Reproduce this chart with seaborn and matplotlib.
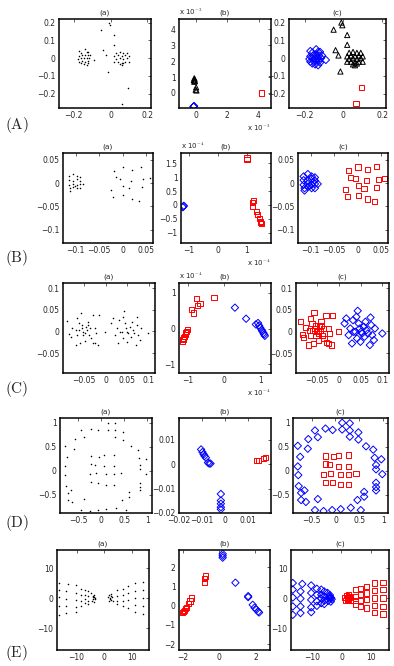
import matplotlib
matplotlib.use('Agg')
import matplotlib.pyplot as plt
import numpy as np
import pandas as pd
import seaborn as sns
from matplotlib.ticker import FuncFormatter

sns.set_style('white')
plt.rcParams['font.family'] = ['DejaVu Sans']
plt.rcParams['mathtext.fontset'] = 'cm'

# groups: 0 = blue diamond, 1 = red square, 2 = black triangle

## Row A
A_x = [-0.17, -0.16, -0.14, -0.13, -0.12, -0.17, -0.155, -0.14, -0.125, -0.11, -0.175, -0.16,
       -0.145, -0.13, -0.115, -0.17, -0.155, -0.14, -0.125, -0.16, -0.145, -0.13, -0.12, -0.09,
       0.03, 0.05, 0.07, 0.09, 0.02, 0.04, 0.06, 0.08, 0.10, 0.03, 0.05, 0.07, 0.09, 0.02, 0.04,
       0.06, 0.08, 0.10, 0.05, 0.07, 0.06,
       -0.01, -0.005, -0.05, 0.02, 0.02, -0.04, -0.025, -0.015, 0.095, 0.065]
A_y = [0.04, 0.03, 0.05, 0.035, 0.035, 0.01, 0.015, 0.02, 0.015, 0.015, -0.005, 0.0,
       0.0, 0.0, 0.0, -0.02, -0.015, -0.02, -0.015, -0.03, -0.035, -0.04, -0.025, -0.01,
       0.03, 0.035, 0.03, 0.03, 0.01, 0.015, 0.01, 0.015, 0.01, -0.005, 0.0, -0.005, 0.0, -0.02, -0.02,
       -0.025, -0.02, -0.02, -0.035, -0.03, -0.04,
       0.2, 0.185, 0.16, 0.13, 0.075, 0.045, 0.015, -0.075, -0.165, -0.255]
A_g = [0] * 24 + [2] * 21 + [2] * 8 + [1, 1]
# panel (b), units of 1e-3
A_bx = [-0.17, -0.15, -0.13, -0.12, -0.1, -0.15, -0.08, -0.12, 0.0, -0.03, 0.02, 4.2]
A_by = [-0.87, -0.85, -0.83, 0.92, 0.85, 0.8, 0.75, 0.7, 0.35, 0.2, 0.15, 0.0]
A_bg = [0, 0, 0, 2, 2, 2, 2, 2, 2, 2, 2, 1]

## Row B
B_x = [-0.115, -0.106, -0.098, -0.091, -0.115, -0.106, -0.098, -0.091, -0.115, -0.106, -0.098,
       -0.091, -0.085, -0.113, -0.106, -0.098, -0.091, -0.113, -0.102,
       -0.019, 0.001, 0.021, 0.040, -0.015, -0.005, 0.019, 0.044, 0.058, -0.025, 0.002, 0.014,
       0.041, -0.021, 0.002, 0.021, 0.036]
B_y = [0.014, 0.019, 0.014, 0.012, 0.006, 0.005, 0.009, 0.005, -0.004, -0.002, -0.004,
       -0.002, -0.002, -0.011, -0.008, -0.011, -0.011, -0.016, -0.006,
       0.026, 0.034, 0.028, 0.035, 0.012, 0.009, 0.005, 0.008, 0.010, -0.014, -0.006, -0.011,
       -0.009, -0.029, -0.026, -0.034, -0.039]
B_g = [0] * 19 + [1] * 17
# panel (b), units of 1e-4
B_bx = [-1.2, -1.18, -1.22, 1.0, 1.0, 1.22, 1.2, 1.2, 1.33, 1.36, 1.44, 1.48, 1.5, 1.47]
B_by = [-0.05, -0.03, -0.08, 1.68, 1.62, 0.15, 0.1, -0.05, -0.22, -0.33, -0.48, -0.58, -0.65, -0.62]
B_bg = [0, 0, 0] + [1] * 11

## Row C
C_x = [-0.0887, -0.0771, -0.0841, -0.081, -0.0694, -0.0655, -0.0624, -0.0577, -0.0539, -0.0554,
       -0.0608, -0.0515, -0.0477, -0.0531, -0.0438, -0.0453, -0.0399, -0.036, -0.0415, -0.0298,
       -0.0376, -0.0345, -0.0283, -0.0244, -0.0221, -0.0143, -0.0167, -0.0244, -0.0477, -0.0593,
       -0.0686, -0.0655, -0.0012,
       0.0167, 0.0128, 0.026, 0.0221, 0.0298, 0.0322, 0.043, 0.0399, 0.0453, 0.0477, 0.0508,
       0.0531, 0.057, 0.0608, 0.0632, 0.0585, 0.0663, 0.0725, 0.074, 0.0763, 0.0802, 0.0709,
       0.0492, 0.0415, 0.0996, 0.0825, 0.0376, 0.0337]
C_y = [0.0238, 0.0085, -0.0062, -0.0138, -0.0315, 0.030, 0.0185, 0.0431, 0.0146, 0.0069,
       0.0031, -0.0008, -0.0046, -0.0085, 0.0031, 0.0108, 0.0146, 0.0069, 0.0223, 0.0377,
       -0.0085, -0.0162, -0.0261, 0.0069, -0.0046, 0.0377, -0.0315, -0.0277, -0.0215, -0.0277,
       0.0031, -0.0085, -0.0008,
       0.030, 0.0185, 0.0069, -0.0085, -0.0277, 0.0261, 0.0477, 0.0338, 0.0185, 0.0069, -0.0008,
       -0.0046, 0.0108, 0.0223, 0.0031, -0.0123, -0.0046, 0.0323, 0.0146, -0.0085, -0.02, -0.0315,
       -0.0238, -0.0162, -0.0046, 0.0069, -0.0008, -0.0008]
C_g = [1] * 33 + [0] * 28
# panel (b), units of 1e-4
C_bx = [-1.02, -1.05, -1.06, -1.08, -1.1, -1.12, -1.14, -1.15, -0.91, -0.85, -0.76, -0.74, -0.67,
        -0.28, 0.30, 0.61, 0.88, 0.94, 0.97, 1.0, 1.04, 1.06, 1.09, 1.11, 1.13]
C_by = [-0.02, -0.07, -0.12, -0.17, -0.21, -0.26, -0.31, -0.35, 0.53, 0.44, 0.84, 0.65, 0.7,
        0.87, 0.59, 0.28, 0.12, 0.16, 0.09, 0.03, -0.03, -0.07, -0.12, -0.16, -0.2]
C_bg = [1] * 14 + [0] * 11

## Row D
D_x = [-0.79, -0.74, -0.79, -0.78, -0.77, -0.72, -0.65, -0.72, -0.62, -0.58, -0.57, -0.43, -0.37,
       -0.21, -0.06, 0.14, 0.14, 0.30, 0.30, 0.30, 0.48, 0.48, 0.64, 0.79, 0.82, 0.96, 0.85, 0.85,
       0.98, 0.85, 0.85, 0.85, 0.60, 0.60, 0.46, 0.32, 0.53, 0.11, -0.07, -0.25, -0.43, -0.37,
       -0.21, -0.04, 0.07, 0.27, -0.21, -0.13, 0.07, 0.27, -0.25, -0.11, 0.11, 0.27, 0.43, -0.21,
       -0.07, 0.11, 0.27]
D_y = [0.52, 0.29, 0.09, -0.09, -0.32, -0.46, -0.41, -0.61, -0.65, 0.46, 0.66, 0.84, 0.70,
       0.88, 0.85, 1.0, 0.86, 0.99, 0.84, 0.71, 0.80, 0.65, 0.51, 0.44, 0.27, 0.24, 0.12, 0.03,
       -0.07, -0.25, -0.34, -0.41, -0.44, -0.54, -0.61, -0.77, -0.82, -0.80, -0.82, -0.84, -0.82,
       -0.59,
       0.31, 0.29, 0.32, 0.33, 0.14, 0.13, 0.09, 0.09, -0.07, -0.05, -0.07, -0.07, -0.05, -0.24,
       -0.25, -0.29, -0.29]
D_g = [0] * 42 + [1] * 17
D_bx = [-0.0104, -0.0098, -0.0093, -0.0089, -0.0083, -0.0074, -0.0069, -0.0063,
        -0.0018, -0.0018, -0.0018, -0.0018, -0.0018, 0.0137, 0.0146, 0.0167, 0.0175]
D_by = [0.0061, 0.005, 0.0041, 0.0034, 0.0027, 0.0007, 0.0003, 0.0003,
        -0.0122, -0.0149, -0.0162, -0.0176, -0.0185, 0.0014, 0.0016, 0.0024, 0.0027]
D_bg = [0] * 13 + [1] * 4

## Row E
E_x = [-16.4, -16.4, -16.4, -16.4, -16.4, -13.2, -13.8, -13.8, -13.8, -13.8, -10.2, -10.2, -10.2,
       -10.2, -10.2, -8.3, -8.3, -8.3, -8.3, -6.8, -6.8, -6.8, -6.8, -5.8, -5.8, -5.8, -5.8,
       -4.7, -4.1, -4.1, -3.7, -3.5, -4.4, -3.9, -3.3, -3.6, -4.2,
       4.6, 4.6, 4.6, 4.6, 6.5, 6.5, 6.5, 6.5, 8.5, 8.5, 8.5, 8.5, 11.0, 11.0, 11.0, 11.0, 11.0,
       14.0, 14.0, 14.0, 14.0, 14.0, 1.2, 1.7, 2.1, 2.5, 3.0, 1.5, 2.3, 1.9, 2.8, 2.2]
E_y = [5.0, 2.8, 0.2, -2.8, -5.6, 4.7, 2.2, -0.2, -2.8, -5.0, 4.2, 1.7, -0.6, -3.1, -4.7,
       3.1, 1.1, -1.1, -2.6, 2.8, 1.1, -0.2, -1.7, 2.2, 0.6, -0.9, -2.0,
       1.7, 0.6, -0.2, 0.2, 0.0, -0.9, 1.0, -0.4, -1.2, 0.3,
       2.8, 0.6, -0.9, -2.0, 3.1, 1.1, -0.9, -2.8, 3.9, 1.7, -0.6, -3.3, 5.0, 2.4, 0.0, -2.4, -4.7,
       5.3, 2.8, 0.0, -2.8, -5.3, 0.2, 0.9, -0.2, 0.6, -0.9, -0.9, 1.2, 0.0, 0.3, -0.5]
E_g = [0] * 37 + [1] * 32
E_bx = [-2.0, -1.95, -1.9, -1.85, -1.8, -1.7, -1.6, -1.5, -0.8, -0.8, -0.75,
        0.2, 0.2, 0.2, 0.9, 1.6, 1.6, 1.85, 1.95, 2.05, 2.15, 2.2]
E_by = [-0.35, -0.3, -0.25, -0.15, -0.1, 0.1, 0.25, 0.4, 1.2, 1.4, 1.55,
        2.5, 2.6, 2.7, 1.2, 0.5, 0.45, 0.05, -0.1, -0.2, -0.3, -0.35]
E_bg = [1] * 11 + [0] * 11

rows = [
    dict(name='(A)', x=A_x, y=A_y, g=A_g, bx=A_bx, by=A_by, bg=A_bg,
         lim=((-0.28, 0.22), (-0.28, 0.22)), ticks=([-0.2, 0, 0.2], [-0.2, -0.1, 0, 0.1, 0.2]),
         blim=((-1.1, 4.8), (-0.95, 4.65)), bticks=([0, 2, 4], [0, 1, 2, 3, 4]), bexp=-3,
         pos=[(59, 19, 151, 108), (179, 19, 271, 108), (289, 19, 386, 108)], ly=125),
    dict(name='(B)', x=B_x, y=B_y, g=B_g, bx=B_bx, by=B_by, bg=B_bg,
         lim=((-0.127, 0.065), (-0.128, 0.064)), ticks=([-0.1, -0.05, 0, 0.05], [-0.1, -0.05, 0, 0.05]),
         blim=((-1.28, 1.83), (-1.36, 1.86)), bticks=([-1, 0, 1], [-1, -0.5, 0, 0.5, 1, 1.5]), bexp=-4,
         pos=[(63, 153, 153, 243), (181, 153, 271, 243), (298, 153, 388, 243)], ly=258),
    dict(name='(C)', x=C_x, y=C_y, g=C_g, bx=C_bx, by=C_by, bg=C_bg,
         lim=((-0.099, 0.115), (-0.096, 0.112)), ticks=([-0.05, 0, 0.05, 0.1], [-0.05, 0, 0.05, 0.1]),
         blim=((-1.25, 1.3), (-1.24, 1.28)), bticks=([-1, 0, 1], [-1, 0, 1]), bexp=-4,
         pos=[(63, 283, 155, 373), (179, 283, 271, 373), (296, 283, 389, 373)], ly=389),
    dict(name='(D)', x=D_x, y=D_y, g=D_g, bx=D_bx, by=D_by, bg=D_bg,
         lim=((-0.89, 1.1), (-0.88, 1.1)), ticks=([-0.5, 0, 0.5, 1], [-0.5, 0, 0.5, 1]),
         blim=((-0.02, 0.02), (-0.02, 0.019)), bticks=([-0.02, -0.01, 0, 0.01], [-0.02, -0.01, 0, 0.01]),
         bexp=None,
         pos=[(60, 418, 152, 513), (179, 418, 271, 513), (293, 418, 388, 513)], ly=523),
    dict(name='(E)', x=E_x, y=E_y, g=E_g, bx=E_bx, by=E_by, bg=E_bg,
         lim=((-17, 16), (-17.3, 16)), ticks=([-10, 0, 10], [-10, 0, 10]),
         blim=((-2.2, 2.8), (-2.3, 2.9)), bticks=([-2, 0, 2], [-2, -1, 0, 1, 2]), bexp=None,
         pos=[(57, 550, 149, 650), (179, 550, 270, 650), (291, 550, 389, 650)], ly=653),
]

styles = {0: ('D', 'blue'), 1: ('s', 'red'), 2: ('^', 'black')}
W, H = 394, 666
fmt = FuncFormatter(lambda v, p: ('%g' % v).replace('-', '\u2212'))


def make_ax(fig, box):
    l, t, r, b = box
    ax = fig.add_axes([l / W, 1 - b / H, (r - l) / W, (b - t) / H])
    for s in ax.spines.values():
        s.set_linewidth(1.1)
        s.set_color('black')
    ax.tick_params(direction='in', length=2, width=0.5, labelsize=5.5, pad=2.5,
                   top=True, right=True)
    ax.xaxis.set_major_formatter(fmt)
    ax.yaxis.set_major_formatter(fmt)
    return ax


def colored(ax, xs, ys, gs):
    df = pd.DataFrame({'x': xs, 'y': ys, 'g': gs})
    for g, (m, c) in styles.items():
        sub = df[df.g == g]
        if len(sub) == 0:
            continue
        sns.scatterplot(data=sub, x='x', y='y', ax=ax, marker=m, s=14,
                        color=c, linewidth=0.7, legend=False)
    for coll in ax.collections:
        ec = coll.get_facecolor()
        coll.set_edgecolor(ec)
        coll.set_facecolor('none')


fig = plt.figure(figsize=(W / 100, H / 100), dpi=100)

for row in rows:
    ax_a = make_ax(fig, row['pos'][0])
    sns.scatterplot(x=row['x'], y=row['y'], ax=ax_a, color='black', marker='.', s=5,
                    linewidth=0, legend=False)
    ax_b = make_ax(fig, row['pos'][1])
    colored(ax_b, row['bx'], row['by'], row['bg'])
    ax_c = make_ax(fig, row['pos'][2])
    colored(ax_c, row['x'], row['y'], row['g'])

    for ax, lim, tk in [(ax_a, row['lim'], row['ticks']), (ax_c, row['lim'], row['ticks']),
                        (ax_b, row['blim'], row['bticks'])]:
        ax.set_xlim(*lim[0])
        ax.set_ylim(*lim[1])
        ax.set_xticks(tk[0])
        ax.set_yticks(tk[1])
        ax.set_xlabel('')
        ax.set_ylabel('')

    for ax, t in zip([ax_a, ax_b, ax_c], ['(a)', '(b)', '(c)']):
        ax.set_title(t, fontsize=5.3, pad=3)

    if row['bexp'] is not None:
        e = row['bexp']
        ax_b.text(0.0, 1.02, r'x 10$^{%d}$' % e, transform=ax_b.transAxes, fontsize=5,
                  ha='left', va='bottom')
        ax_b.text(1.0, -0.17, r'x 10$^{%d}$' % e, transform=ax_b.transAxes, fontsize=5,
                  ha='right', va='top')

    fig.text(5 / W, 1 - row['ly'] / H, r'$\mathrm{' + row['name'] + '}$', fontsize=11,
             ha='left', va='center')

fig.savefig('out.png', dpi=100)
